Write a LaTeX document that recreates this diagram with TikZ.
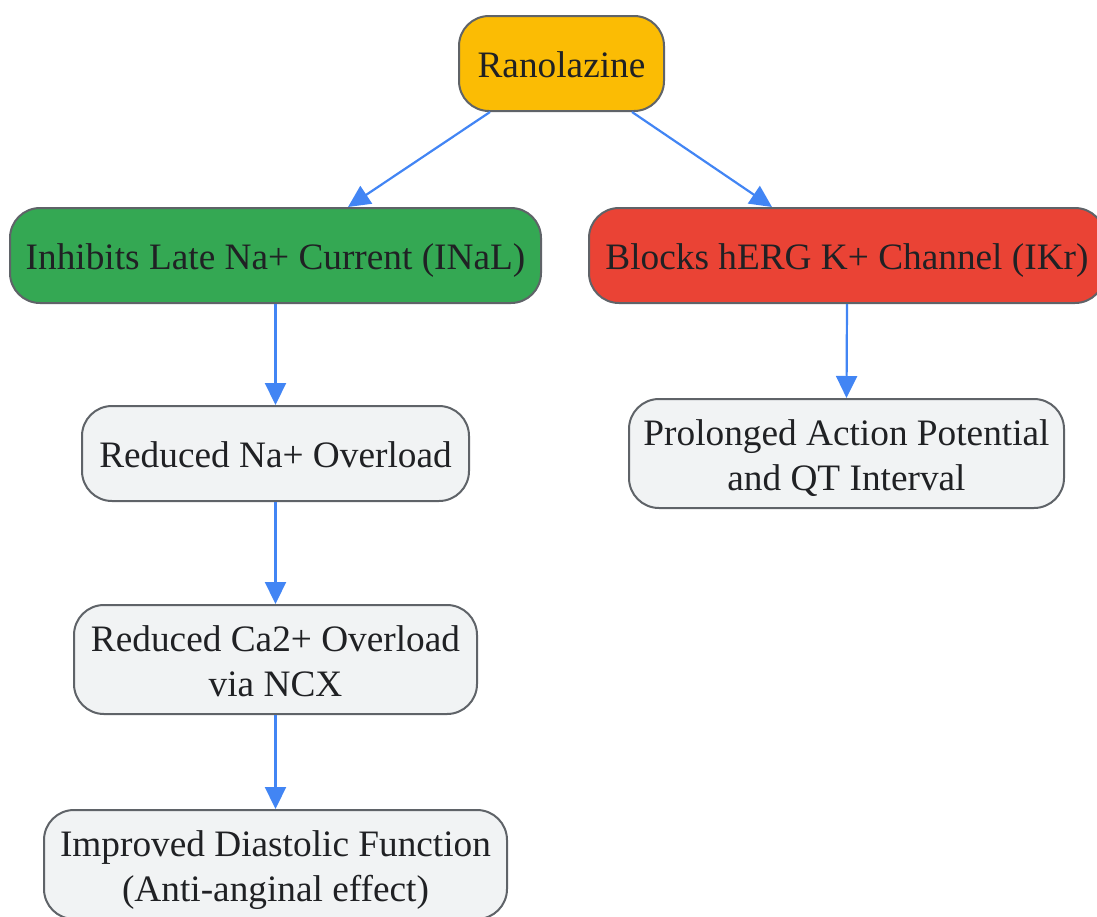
\documentclass[tikz,border=0pt]{standalone}
\usepackage{fontspec}
\setmainfont{Liberation Serif}
\usetikzlibrary{arrows.meta}
\definecolor{cyellow}{HTML}{FBBC04}
\definecolor{cgreen}{HTML}{34A853}
\definecolor{cred}{HTML}{EA4335}
\definecolor{cgray}{HTML}{F1F3F4}
\definecolor{cborder}{HTML}{5F6368}
\definecolor{ctext}{HTML}{202124}
\definecolor{carrow}{HTML}{4285F4}
\newcommand{\boxtxt}[1]{\raisebox{-5pt}[\height][\depth]{\begin{tabular}{@{}c@{}}#1\end{tabular}}}
\tikzset{
  box/.style={draw=cborder, line width=2pt, rounded corners=30pt, inner sep=0pt,
    text=ctext, font=\fontsize{37.3}{45}\selectfont},
  conn/.style={draw=carrow, line width=2.2pt, -{Triangle[width=21pt,length=22pt]}}
}
\begin{document}
\begin{tikzpicture}[x=1pt,y=-1pt]
\useasboundingbox (0,0) rectangle (1097,916);
\clip (0,0) rectangle (1097,916);
\node[box, fill=cyellow, minimum width=205pt, minimum height=95pt] (ran) at (561.5,63.5) {\boxtxt{Ranolazine}};
\node[box, fill=cgreen, minimum width=531pt, minimum height=95pt] (inh) at (275.5,255.5) {\boxtxt{Inhibits Late Na+ Current (INaL)}};
\node[box, fill=cred, minimum width=516pt, minimum height=95pt] (blk) at (847,255.5) {\boxtxt{Blocks hERG K+ Channel (IKr)}};
\node[box, fill=cgray, minimum width=387pt, minimum height=95pt] (na) at (275.5,453.5) {\boxtxt{Reduced Na+ Overload}};
\node[box, fill=cgray, minimum width=435pt, minimum height=109pt] (qt) at (846.5,453.5) {\boxtxt{Prolonged Action Potential\\and QT Interval}};
\node[box, fill=cgray, minimum width=403pt, minimum height=109pt] (ca) at (275.5,659.5) {\boxtxt{Reduced Ca2+ Overload\\via NCX}};
\node[box, fill=cgray, minimum width=463pt, minimum height=109pt] (imp) at (275.5,864.5) {\boxtxt{Improved Diastolic Function\\(Anti-anginal effect)}};
\draw[conn] ([xshift=-71.5pt]ran.south) -- ([xshift=72.5pt]inh.north);
\draw[conn] ([xshift=70.5pt]ran.south) -- ([xshift=-75pt]blk.north);
\draw[conn] (inh.south) -- (na.north);
\draw[conn] (na.south) -- (ca.north);
\draw[conn] (ca.south) -- (imp.north);
\draw[conn] (blk.south) -- (qt.north);
\end{tikzpicture}
\end{document}
